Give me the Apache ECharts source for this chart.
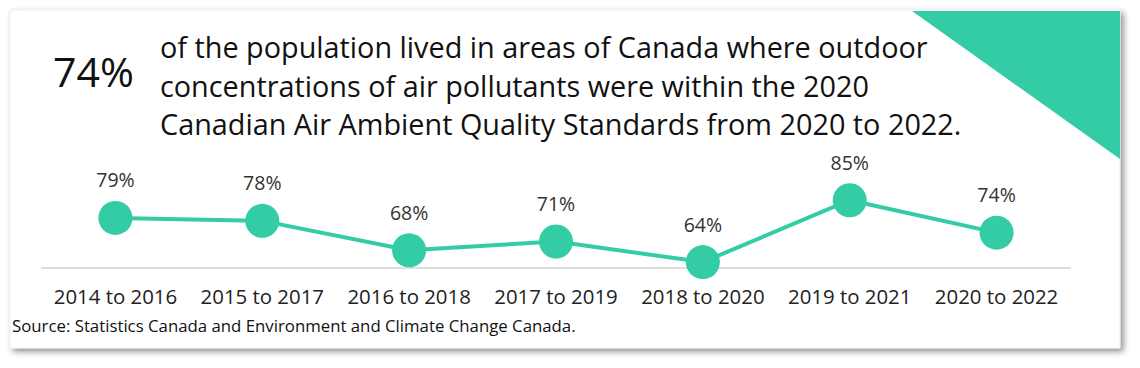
<!DOCTYPE html>
<html>
<head>
<meta charset="utf-8">
<script src="https://cdn.jsdelivr.net/npm/echarts@6/dist/echarts.min.js"></script>
<style>
html,body{margin:0;padding:0;background:#fff;}
#c{width:1140px;height:368px;}
</style>
</head>
<body>
<div id="c"></div>
<script>
const categories = ['2014 to 2016','2015 to 2017','2016 to 2018','2017 to 2019','2018 to 2020','2019 to 2021','2020 to 2022'];
const values = [79, 78, 68, 71, 64, 85, 74];
const headlineValue = '74%';
const headlineLines = [
  'of the population lived in areas of Canada where outdoor',
  'concentrations of air pollutants were within the 2020',
  'Canadian Air Ambient Quality Standards from 2020 to 2022.'
];
const sourceText = 'Source: Statistics Canada and Environment and Climate Change Canada.';

const teal = '#33cca4';
const font = '"Open Sans", "Noto Sans", sans-serif';

const chart = echarts.init(document.getElementById('c'), null, {renderer: 'svg'});

const graphics = [
  {type:'rect', shape:{x:10,y:10,width:1110,height:338}, style:{fill:'#fff', stroke:'#eeeeee', lineWidth:1, shadowBlur:6, shadowOffsetX:3, shadowOffsetY:3, shadowColor:'rgba(0,0,0,0.45)'}, z:-10},
  {type:'polygon', shape:{points:[[912,11],[1120,11],[1120,159]]}, style:{fill:teal}, z:-9},
  {type:'text', left:53, top:50, style:{text:headlineValue, fontSize:41, fontFamily:font, fill:'#111'}},
  {type:'text', left:12, top:317, style:{text:sourceText, fontSize:16.8, fontFamily:font, fill:'#111'}}
];
headlineLines.forEach((t,i)=>{
  graphics.push({type:'text', left:160, top:32 + i*38.7, style:{text:t, fontSize:28.8, fontFamily:font, fill:'#111'}});
});

chart.setOption({
  animation:false,
  grid:{left:42, right:70, top:156, bottom:100},
  xAxis:{
    type:'category', data:categories, boundaryGap:true,
    axisLine:{lineStyle:{color:'#dddddd', width:2}},
    axisTick:{show:false},
    axisLabel:{interval:0, hideOverlap:false, fontSize:20.4, fontFamily:font, color:'#222', margin:18}
  },
  yAxis:{type:'value', min:62, max:100, show:false, splitLine:{show:false}},
  series:[{
    type:'line', data:values,
    symbol:'circle', symbolSize:34,
    lineStyle:{color:teal, width:4},
    itemStyle:{color:teal},
    label:{show:true, position:'top', distance:11, formatter:'{c}%', fontSize:19.5, fontFamily:font, color:'#333'}
  }],
  graphic:graphics
});
</script>
</body>
</html>
